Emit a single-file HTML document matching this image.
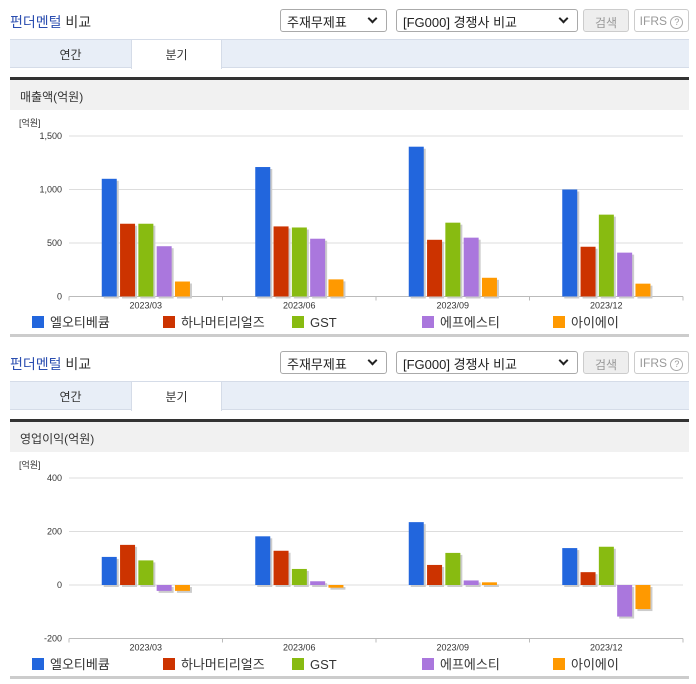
<!DOCTYPE html>
<html><head><meta charset="utf-8">
<style>
*{box-sizing:border-box;margin:0;padding:0}
body{width:696px;height:684px;background:#fff;font-family:"Liberation Sans","Noto Sans CJK KR",sans-serif;position:relative;overflow:hidden;color:#333}
.abs{position:absolute}
.title{font-size:14px;color:#333}
.title b{font-weight:normal;color:#2b4eb0}
.sel{border:1px solid #aaa;border-radius:3px;height:23px;font-size:13px;padding:2px 6px;background:#fff;color:#222}
.sel span.ar{position:absolute;right:10px;top:5px;width:7px;height:7px;border-right:2px solid #222;border-bottom:2px solid #222;transform:rotate(45deg)}
.btn{border:1px solid #ccc;border-radius:3px;height:23px;font-size:12px;color:#999;text-align:center;padding-top:4px}
.tabs{background:#e8eef7;border-top:1px solid #d5dce8;border-bottom:1px solid #d5dce8;height:29px}
.tab{font-size:12px;text-align:center;padding-top:6px;height:28px}
.hdr{background:#f1f1f1;border-top:3px solid #333;height:33px;font-size:12px;padding:8px 10px}
</style></head><body>
<script>
const cats=["2023/03","2023/06","2023/09","2023/12"];
const names=["엘오티베큠","하나머티리얼즈","GST","에프에스티","아이에이"];
const colors=["#2266dd","#cc3300","#88bb11","#aa77dd","#ff9900"];
const sales=[[1100,1210,1400,1000],[680,655,530,465],[680,645,690,765],[470,540,550,410],[140,160,175,120]];
const salesTicks=[0,500,1000,1500];
const op=[[105,182,235,138],[150,128,75,48],[92,60,120,143],[-22,14,17,-118],[-22,-10,10,-90]];
const opTicks=[-200,0,200,400];

function section(top,label,series,ticks,tickLabels){
  const sec=document.createElement('div');
  sec.className='abs';sec.style.left='0';sec.style.top=top+'px';sec.style.width='696px';sec.style.height='340px';
  
  
  sec.innerHTML=`
  <div class="abs title" style="left:10px;top:12px"><b>펀더멘털</b> 비교</div>
  <div class="abs sel" style="left:280px;top:9px;width:107px">주재무제표<span class="ar"></span></div>
  <div class="abs sel" style="left:396px;top:9px;width:182px">[FG000] 경쟁사 비교<span class="ar"></span></div>
  <div class="abs btn" style="left:583px;top:9px;width:46px;background:#eee">검색</div>
  <div class="abs btn" style="left:634px;top:9px;width:55px">IFRS <span style="display:inline-block;width:13px;height:13px;border:1px solid #aaa;border-radius:50%;font-size:9px;line-height:11px">?</span></div>
  <div class="abs tabs" style="left:10px;top:39px;width:679px"></div>
  <div class="abs tab" style="left:10px;top:40px;width:121px">연간</div>
  <div class="abs tab" style="left:131px;top:40px;width:91px;background:#fff;border-left:1px solid #d5dce8;border-right:1px solid #d5dce8;height:29px">분기</div>
  <div class="abs hdr" style="left:10px;top:77px;width:679px">${label}</div>
  <div class="abs" style="left:10px;top:334px;width:679px;height:3px;background:#ccc"></div>`;
  document.body.appendChild(sec);
  const NS='http://www.w3.org/2000/svg';
  const svg=document.createElementNS(NS,'svg');
  svg.setAttribute('width','696');svg.setAttribute('height','340');
  svg.setAttribute('style','position:absolute;left:0;top:0');
  
  
  sec.appendChild(svg);
  const x0=69,x1=683,yTop=136,yBot=296.5;
  const tmin=ticks[0],tmax=ticks[ticks.length-1];
  const y=v=>yBot-(v-tmin)/(tmax-tmin)*(yBot-yTop);
  const cw=(x1-x0)/cats.length;
  function el(t,a){const e=document.createElementNS(NS,t);for(const k in a)e.setAttribute(k,a[k]);svg.appendChild(e);return e;}
  const u=el('text',{x:19,y:126,'font-size':9,fill:'#333'});u.textContent='[억원]';
  
  
  ticks.forEach((t,i)=>{
    const g=el('line',{x1:x0,x2:x1,y1:y(t),y2:y(t),stroke:i==0?'#bbb':'#ddd'});
    
    
    const tl=el('text',{x:62,y:y(t)+3,'font-size':9,fill:'#333','text-anchor':'end'});
    tl.textContent=tickLabels[i];
    
    
  });
  const zero=y(Math.max(0,tmin));
  cats.forEach((c,ci)=>{
    const cx=x0+cw*(ci+0.5);
    const tk=el('line',{x1:x0+cw*ci,x2:x0+cw*ci,y1:yBot,y2:yBot+4,stroke:'#bbb'});
    
    
    const lt=el('text',{x:cx,y:yBot+12,'font-size':9,fill:'#333','text-anchor':'middle'});
    lt.textContent=c;
    
    
    series.forEach((s,si)=>{
      const bx=cx-44+si*18.3;const v=s[ci];
      const yv=y(v);const top=Math.min(yv,zero),h=Math.abs(yv-zero);
      const sh=el('rect',{x:bx+2,y:top+2,width:15,height:h,fill:'#ccc'});
      
      
      const r=el('rect',{x:bx,y:top,width:15,height:h,fill:colors[si]});
      
      
    });
  });
  const tk=el('line',{x1:x1,x2:x1,y1:yBot,y2:yBot+4,stroke:'#bbb'});
  
  
  const lx=[32,163,292,422,553];
  names.forEach((n,i)=>{
    const r=el('rect',{x:lx[i],y:316,width:12,height:12,fill:colors[i]});
    
    
    const t=el('text',{x:lx[i]+18,y:327,'font-size':13,fill:'#333'});
    t.textContent=n;
    
    
  });
}
section(0,'매출액(억원)',sales,salesTicks,['0','500','1,000','1,500']);
section(342,'영업이익(억원)',op,opTicks,['-200','0','200','400']);
</script>
</body></html>
